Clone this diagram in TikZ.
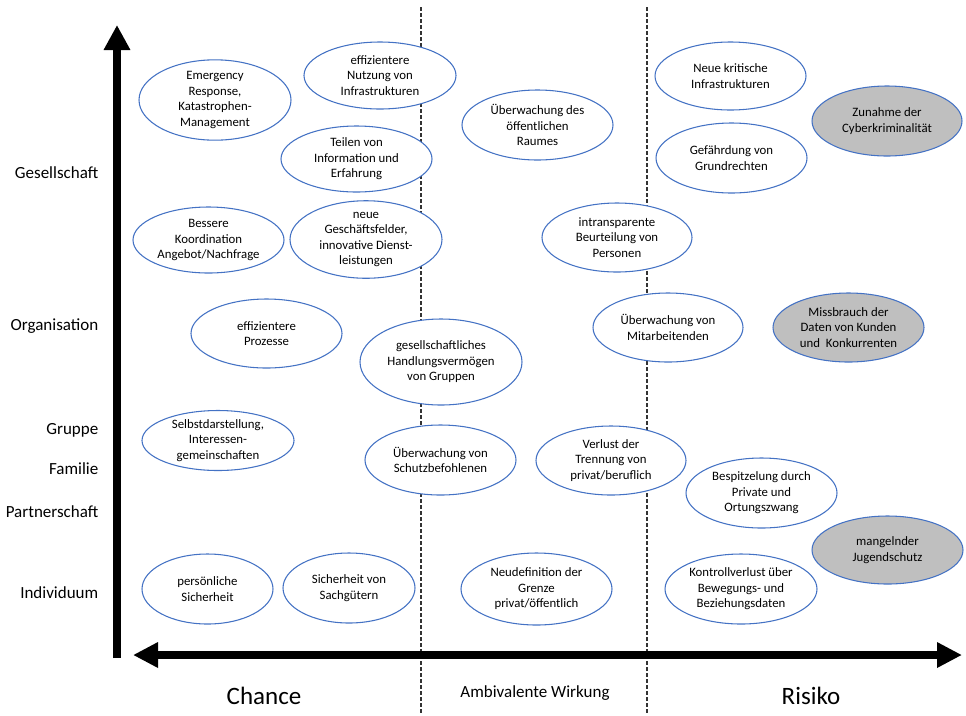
\documentclass[tikz,border=0pt]{standalone}
\usepackage{fontspec}
\setmainfont{Carlito}
\usetikzlibrary{shapes.geometric,arrows.meta}
\definecolor{eblue}{HTML}{4472C4}
\definecolor{egray}{HTML}{BFBFBF}
\definecolor{dgray}{HTML}{333333}
\begin{document}
\begin{tikzpicture}[x=0.75pt,y=-0.75pt,
  elli/.style={ellipse,draw=eblue,line width=0.8pt,fill=white,inner sep=0pt,align=center,
    font=\fontsize{9.6pt}{11.6pt}\selectfont},
  grayelli/.style={elli,fill=egray},
  sz/.style 2 args={minimum width=#1*0.75pt,minimum height=#2*0.75pt},
  axlabel/.style={anchor=east,font=\fontsize{12.75pt}{15pt}\selectfont},
  biglabel/.style={font=\fontsize{18.75pt}{22pt}\selectfont},
  midlabel/.style={font=\fontsize{12.75pt}{15pt}\selectfont},
  sep/.style={draw=dgray,line width=0.8pt,dash pattern=on 3pt off 1.5pt},
  axis/.style={line width=6.3pt}
]
\useasboundingbox (0,0) rectangle (966,715);

% separators
\coordinate (s1t) at (421,7); \coordinate (s1b) at (421,715);
\coordinate (s2t) at (647,7); \coordinate (s2b) at (647,715);
\draw[sep] (s1t) -- (s1b);
\draw[sep] (s2t) -- (s2b);

% axes
\coordinate (vb) at (117,658); \coordinate (vt) at (117,25);
\draw[axis,-{Triangle[length=18.75pt,width=18.75pt]}] (vb) -- (vt);
\coordinate (hm) at (540,655); \coordinate (hl) at (133,655); \coordinate (hr) at (962,655);
\draw[axis,-{Triangle[length=18.75pt,width=18pt]}] (hm) -- (hl);
\draw[axis,-{Triangle[length=18.75pt,width=18pt]}] (hm) -- (hr);

% axis labels
\node[axlabel] (lg) at (103,173) {Gesellschaft};
\node[axlabel] (lo) at (103,326) {Organisation};
\node[axlabel] (lgr) at (103,430) {Gruppe};
\node[axlabel] (lf) at (103,469) {Familie};
\node[axlabel] (lp) at (103,512) {Partnerschaft};
\node[axlabel] (li) at (103,593) {Individuum};

\node[biglabel] (chance) at (264,696) {Chance};
\node[midlabel] (amb) at (535,693) {Ambivalente Wirkung};
\node[biglabel] (risiko) at (811,696) {Risiko};

% ellipses
\node[elli,sz={152}{77}] (emerg) at (215,100) {Emergency\\Response,\\Katastrophen-\\Management};
\node[elli,sz={152}{67}] (nutz) at (380,75.5) {effizientere\\Nutzung von\\Infrastrukturen};
\node[elli,sz={151}{66}] (teilen) at (356.5,159) {Teilen von\\Information und\\Erfahrung};
\node[elli,sz={151}{66}] (koord) at (208.5,240) {Bessere\\Koordination\\Angebot/Nachfrage};
\node[elli,sz={152}{67}] (neue) at (366,239.5) {neue\\Geschäftsfelder,\\innovative Dienst-\\leistungen};
\node[elli,sz={151}{70}] (raum) at (537.5,125) {Überwachung des\\öffentlichen\\Raumes};
\node[elli,sz={151}{68}] (krit) at (730.5,76) {Neue kritische\\Infrastrukturen};
\node[grayelli,sz={150}{70}] (cyber) at (887,121) {Zunahme der\\Cyberkriminalität};
\node[elli,sz={151}{70}] (grund) at (731.5,158) {Gefährdung von\\Grundrechten};
\node[elli,sz={150}{69}] (intrans) at (617,237.5) {intransparente\\Beurteilung von\\Personen};
\node[elli,sz={151}{69}] (proz) at (266.5,333.5) {effizientere\\Prozesse};
\node[elli,sz={162}{86}] (handl) at (441,362) {gesellschaftliches\\Handlungsvermögen\\von Gruppen};
\node[elli,sz={152}{60}] (selbst) at (218,440.5) {Selbstdarstellung,\\Interessen-\\gemeinschaften};
\node[elli,sz={151}{70}] (schutz) at (440.5,460) {Überwachung von\\Schutzbefohlenen};
\node[elli,sz={150}{69}] (mitarb) at (668,327.5) {Überwachung von\\Mitarbeitenden};
\node[grayelli,sz={151}{69}] (missb) at (848.5,327.5) {Missbrauch der\\Daten von Kunden\\und~~Konkurrenten};
\node[elli,sz={150}{69}] (trenn) at (611,460.5) {Verlust der\\Trennung von\\privat/beruflich};
\node[elli,sz={151}{70}] (bespitz) at (761.5,493) {Bespitzelung durch\\Private und\\Ortungszwang};
\node[grayelli,sz={151}{68}] (jugend) at (887.5,550) {mangelnder\\Jugendschutz};
\node[elli,sz={152}{70}] (kontroll) at (741,589) {Kontrollverlust über\\Bewegungs- und\\Beziehungsdaten};
\node[elli,sz={151}{72}] (neudef) at (536.5,589) {Neudefinition der\\Grenze\\privat/öffentlich};
\node[elli,sz={131}{70}] (pers) at (207.5,589) {persönliche\\Sicherheit};
\node[elli,sz={132}{70}] (sach) at (349,588) {Sicherheit von\\Sachgütern};
\end{tikzpicture}
\end{document}
